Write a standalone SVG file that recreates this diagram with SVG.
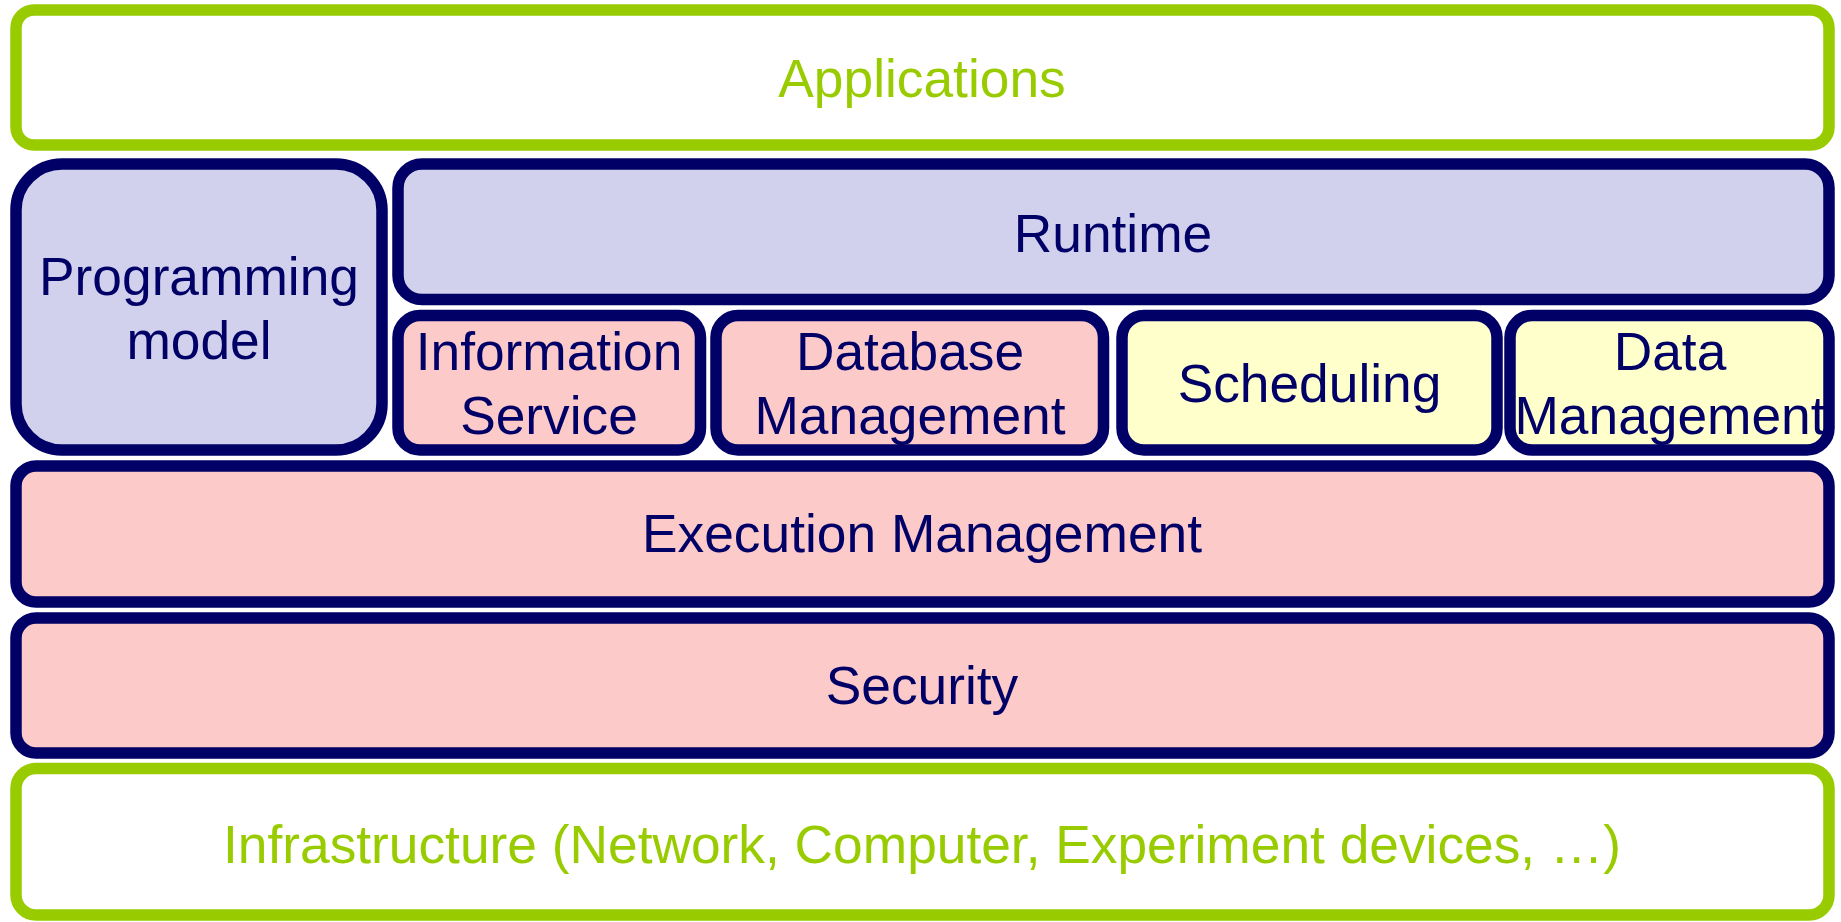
<svg xmlns="http://www.w3.org/2000/svg" width="1841" height="922" viewBox="0 0 1841 922">
  <style>
    .box { stroke-width: 11.5; }
    .outer { fill: #FFFFFF; stroke: #99CC00; }
    .blue { fill: #D1D1EE; stroke: #000066; }
    .pink { fill: #FDCACA; stroke: #000066; }
    .yellow { fill: #FFFFCC; stroke: #000066; }
    text { font-family: "Liberation Sans", Arial, sans-serif; font-size: 53.3px; text-anchor: middle; }
    .dark { fill: #000066; }
    .green { fill: #99CC00; }
  </style>
  <rect width="1841" height="922" fill="#FFFFFF"/>

  <g id="applications">
    <rect class="box outer" x="16" y="10" width="1813" height="135" rx="18"/>
    <text class="green" x="922" y="97">Applications</text>
  </g>

  <g id="programming-model">
    <rect class="box blue" x="16" y="164" width="366" height="286" rx="46"/>
    <text class="dark" x="199" y="295">Programming</text>
    <text class="dark" x="199" y="359">model</text>
  </g>

  <g id="runtime">
    <rect class="box blue" x="398" y="164" width="1431" height="135.5" rx="24"/>
    <text class="dark" x="1113" y="252">Runtime</text>
  </g>

  <g id="information-service">
    <rect class="box pink" x="398" y="315.5" width="302.5" height="134.5" rx="22"/>
    <text class="dark" x="549" y="370">Information</text>
    <text class="dark" x="549" y="434">Service</text>
  </g>

  <g id="database-management">
    <rect class="box pink" x="716" y="315.5" width="387.5" height="134.5" rx="22"/>
    <text class="dark" x="910" y="370">Database</text>
    <text class="dark" x="910" y="434">Management</text>
  </g>

  <g id="scheduling">
    <rect class="box yellow" x="1122" y="315.5" width="375" height="134.5" rx="22"/>
    <text class="dark" x="1309.5" y="402">Scheduling</text>
  </g>

  <g id="data-management">
    <rect class="box yellow" x="1510" y="315.5" width="319" height="134.5" rx="22"/>
    <text class="dark" x="1670" y="370">Data</text>
    <text class="dark" x="1670" y="434">Management</text>
  </g>

  <g id="execution-management">
    <rect class="box pink" x="16" y="466" width="1813" height="136" rx="20"/>
    <text class="dark" x="922" y="552">Execution Management</text>
  </g>

  <g id="security">
    <rect class="box pink" x="16" y="618" width="1813" height="135" rx="20"/>
    <text class="dark" x="922" y="704">Security</text>
  </g>

  <g id="infrastructure">
    <rect class="box outer" x="16" y="768.5" width="1813" height="146.5" rx="20"/>
    <text class="green" x="922" y="863">Infrastructure (Network, Computer, Experiment devices, …)</text>
  </g>

  <g id="connectors"></g>
</svg>
